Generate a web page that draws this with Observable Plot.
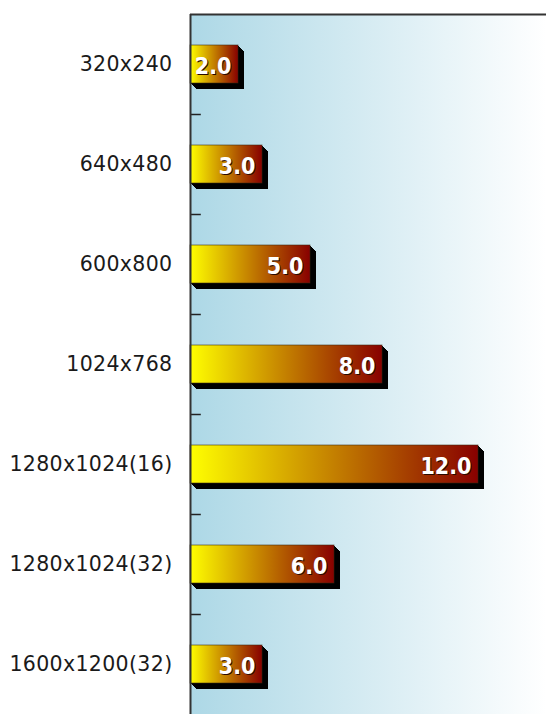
<!DOCTYPE html>
<html>
<head>
<meta charset="utf-8">
<script src="https://cdn.jsdelivr.net/npm/d3@7"></script>
<script src="https://cdn.jsdelivr.net/npm/@observablehq/plot@0.6"></script>
<style>
  html, body { margin: 0; padding: 0; background: #ffffff; }
  #chart svg { display: block; }
  #chart svg .value-label { font-stretch: condensed; }
</style>
</head>
<body>
<div id="chart"></div>
<script>
// Screen resolutions and their measured values
const resolutions = ["320x240", "640x480", "600x800", "1024x768", "1280x1024(16)", "1280x1024(32)", "1600x1200(32)"];
const values = [2.0, 3.0, 5.0, 8.0, 12.0, 6.0, 3.0];

const data = resolutions.map((label, i) => ({label, value: values[i]}));

// Offsets for the stacked black extrusion behind each bar
const depth = [1, 2, 3, 4, 5, 6];

const fontFamily = "'DejaVu Sans', Verdana, sans-serif";
const valueFont = "'DejaVu Sans Condensed', 'DejaVu Sans', sans-serif";

const plot = Plot.plot({
  width: 546,
  height: 714,
  marginLeft: 190,
  marginRight: 0,
  marginTop: 14,
  marginBottom: 0,
  style: {fontFamily, background: "transparent", overflow: "hidden"},
  x: {domain: [0, 15], range: [190, 550], axis: null},
  y: {domain: resolutions, paddingInner: 0.62, paddingOuter: 0.31, label: null, axis: null},
  marks: [
    Plot.frame({fill: "url(#bgGrad)", stroke: "none"}),
    // extrusion shadow
    ...depth.map(k => Plot.barX(data, {x: "value", y: "label", fill: "black", dx: k, dy: k})),
    Plot.barX(data, {x: "value", y: "label", fill: "url(#barGrad)", stroke: "#3a2a10", strokeWidth: 0.8, strokeOpacity: 0.7}),
    // value labels with a dark drop shadow
    Plot.text(data, {x: "value", y: "label", text: d => d.value.toFixed(1), textAnchor: "end", dx: -6, dy: 3.5,
      fill: "#2a0a00", fontSize: 23, fontWeight: "bold", fontFamily: valueFont, className: "value-label"}),
    Plot.text(data, {x: "value", y: "label", text: d => d.value.toFixed(1), textAnchor: "end", dx: -7, dy: 2.5,
      fill: "white", fontSize: 23, fontWeight: "bold", fontFamily: valueFont, className: "value-label"}),
    // inward ticks at category boundaries
    Plot.ruleY(resolutions.slice(1), {y: d => d, x1: 0, x2: 0.45, dy: -50, stroke: "#222", strokeWidth: 1.5}),
    // top and left borders
    Plot.ruleY([resolutions[0]], {dy: -50, stroke: "#333", strokeWidth: 2}),
    Plot.ruleX([0], {stroke: "#333", strokeWidth: 2}),
    Plot.axisY({tickSize: 0, tickPadding: 18, fontSize: 20.5, fill: "#1a1a1a", stroke: "#1a1a1a", strokeWidth: 0.25, label: null})
  ]
});

// Slightly wider spacing on category labels
plot.querySelectorAll("[aria-label='y-axis tick label'] text").forEach(t => t.setAttribute("letter-spacing", "0.35"));

// Gradients for the plot background and the bars
const ns = "http://www.w3.org/2000/svg";
const defs = document.createElementNS(ns, "defs");
function gradient(id, stops) {
  const g = document.createElementNS(ns, "linearGradient");
  g.setAttribute("id", id);
  g.setAttribute("x1", "0"); g.setAttribute("x2", "1");
  g.setAttribute("y1", "0"); g.setAttribute("y2", "0");
  for (const [offset, color] of stops) {
    const s = document.createElementNS(ns, "stop");
    s.setAttribute("offset", offset);
    s.setAttribute("stop-color", color);
    g.appendChild(s);
  }
  defs.appendChild(g);
}
gradient("bgGrad", [[0, "#add8e6"], [1, "#ffffff"]]);
gradient("barGrad", [[0, "#ffff00"], [1, "#880000"]]);
plot.insertBefore(defs, plot.firstChild);

document.getElementById("chart").appendChild(plot);
</script>
</body>
</html>
